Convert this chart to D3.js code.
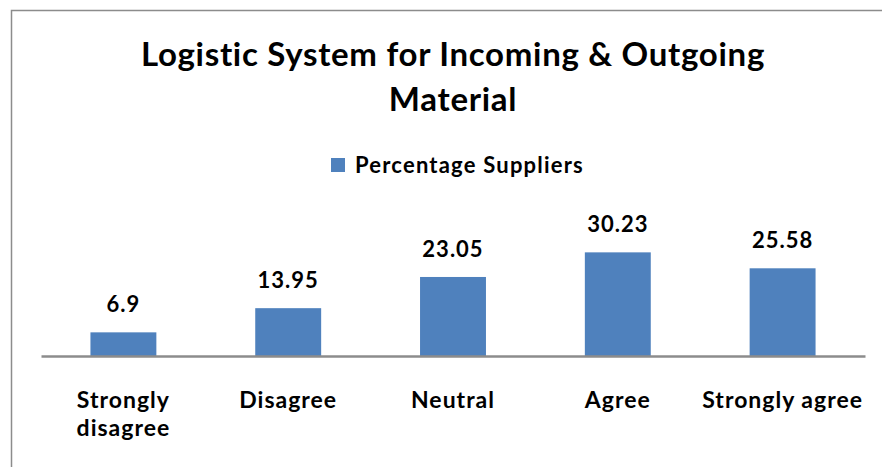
<!DOCTYPE html>
<html>
<head>
<meta charset="utf-8">
<script src="https://cdn.jsdelivr.net/npm/d3@7"></script>
<style>
  html, body { margin: 0; padding: 0; background: #fff; }
  svg { display: block; font-family: Lato, "Open Sans", sans-serif; font-weight: bold; font-variant-ligatures: none; }
</style>
</head>
<body>
<svg id="chart" width="882" height="467"></svg>
<script>
const titleLines = ["Logistic System for Incoming & Outgoing", "Material"];
const seriesName = "Percentage Suppliers";
const categories = ["Strongly disagree", "Disagree", "Neutral", "Agree", "Strongly agree"];
const values = [6.9, 13.95, 23.05, 30.23, 25.58];
const valueLabels = ["6.9", "13.95", "23.05", "30.23", "25.58"];
const yDomain = [0, 35];

const svg = d3.select("#chart");
const W = 882, H = 467;
const barColor = "#4F81BD";

// outer frame (chart area border, cropped at right/bottom)
svg.append("rect")
  .attr("x", 11.5).attr("y", 10.5)
  .attr("width", W + 20).attr("height", H + 20)
  .attr("fill", "#fff").attr("stroke", "#8c8c8c").attr("stroke-width", 1.5);

// title
const title = svg.append("text")
  .attr("text-anchor", "middle")
  .attr("font-size", 33)
  .attr("letter-spacing", 0.7)
  .attr("fill", "#000");
titleLines.forEach((t, i) => {
  title.append("tspan").attr("x", 453).attr("y", 66 + i * 45).text(t);
});

// legend
const legend = svg.append("g").attr("transform", "translate(331,158)");
legend.append("rect").attr("width", 14).attr("height", 14).attr("fill", barColor);
legend.append("text").attr("x", 24).attr("y", 14.5).attr("font-size", 22)
  .attr("letter-spacing", 1.2).attr("fill", "#000").text(seriesName);

// scales
const x = d3.scaleBand().domain(categories).range([41, 865]).paddingInner(0.6).paddingOuter(0.3);
const y = d3.scaleLinear().domain(yDomain).range([356, 236]);

// bars
svg.append("g").selectAll("rect").data(values).join("rect")
  .attr("x", (d, i) => x(categories[i]))
  .attr("y", d => y(d))
  .attr("width", x.bandwidth())
  .attr("height", d => y(0) - y(d))
  .attr("fill", barColor);

// value labels
svg.append("g").selectAll("text").data(values).join("text")
  .attr("x", (d, i) => x(categories[i]) + x.bandwidth() / 2)
  .attr("y", d => y(d) - 20)
  .attr("text-anchor", "middle")
  .attr("font-size", 22)
  .attr("letter-spacing", 1)
  .attr("fill", "#000")
  .text((d, i) => valueLabels[i]);

// x axis
const xAxis = d3.axisBottom(x).tickSize(0).tickPadding(0);
const axisG = svg.append("g").attr("transform", `translate(0,${y(0)})`).call(xAxis);
axisG.select(".domain").attr("stroke", "#8c8c8c").attr("stroke-width", 2.5);
axisG.selectAll(".tick text")
  .attr("font-size", 23)
  .attr("letter-spacing", 1)
  .attr("font-family", "Lato, 'Open Sans', sans-serif")
  .attr("font-weight", "bold")
  .attr("fill", "#000")
  .attr("y", 52)
  .attr("dy", null)
  .each(function(d) {
    const el = d3.select(this);
    const step = x.step();
    if (this.getComputedTextLength() > step) {
      const words = d.split(" ");
      el.text(null);
      el.append("tspan").attr("x", 0).attr("y", 52).text(words[0]);
      el.append("tspan").attr("x", 0).attr("y", 80).text(words.slice(1).join(" "));
    }
  });
</script>
</body>
</html>
